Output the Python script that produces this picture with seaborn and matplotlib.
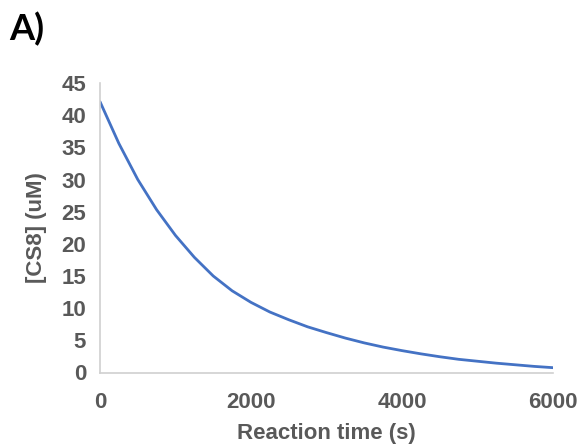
import matplotlib
matplotlib.use("Agg")
import matplotlib.pyplot as plt
import seaborn as sns
import pandas as pd

# Data
time_s = [0, 250, 500, 750, 1000, 1250, 1500, 1750, 2000, 2250, 2500, 2750, 3000,
          3250, 3500, 3750, 4000, 4250, 4500, 4750, 5000, 5250, 5500, 5750, 6000]
cs8_uM = [42.1, 35.6, 30.0, 25.3, 21.3, 17.9, 15.0, 12.7, 10.9, 9.4, 8.2, 7.1, 6.2,
          5.35, 4.6, 3.95, 3.4, 2.9, 2.45, 2.05, 1.75, 1.45, 1.2, 0.95, 0.75]
x_ticks = [0, 2000, 4000, 6000]
y_ticks = [0, 5, 10, 15, 20, 25, 30, 35, 40, 45]

sns.set_theme(style="white")
plt.rcParams['font.family'] = ['Liberation Sans', 'DejaVu Sans']

df = pd.DataFrame({"t": time_s, "c": cs8_uM})

fig = plt.figure(figsize=(5.83, 4.47), dpi=100)
ax = fig.add_axes([100/583, 1 - 372.5/447, (553 - 100)/583, (372.5 - 83)/447])

sns.lineplot(data=df, x="t", y="c", ax=ax, color="#4472C4", linewidth=2.0)

ax.set_xlim(0, 6000)
ax.set_ylim(0, 45)
ax.set_xticks(x_ticks)
ax.set_yticks(y_ticks)
ax.set_xticklabels([str(v) for v in x_ticks])
ax.set_yticklabels([str(v) for v in y_ticks])

grey = "#595959"
fs = 16
for lab in ax.get_xticklabels() + ax.get_yticklabels():
    lab.set_fontweight("bold")
    lab.set_color(grey)
    lab.set_fontsize(fs)
ax.tick_params(axis="both", length=0)
ax.tick_params(axis="x", pad=14)
ax.tick_params(axis="y", pad=10)

for s in ["top", "right"]:
    ax.spines[s].set_visible(False)
for s in ["left", "bottom"]:
    ax.spines[s].set_color("#d0d0d0")
    ax.spines[s].set_linewidth(1.2)

ax.set_xlabel("Reaction time (s)", fontsize=fs, fontweight="bold", color=grey, labelpad=7)
ax.set_ylabel("[CS8] (uM)", fontsize=fs, fontweight="bold", color=grey, labelpad=10)

fig.text(9/583, 1 - 40/447, "A)", fontsize=26, fontweight="bold", color="black",
         family=["Lato", "DejaVu Sans"], va="baseline", ha="left")

fig.savefig("out.png", dpi=100)
